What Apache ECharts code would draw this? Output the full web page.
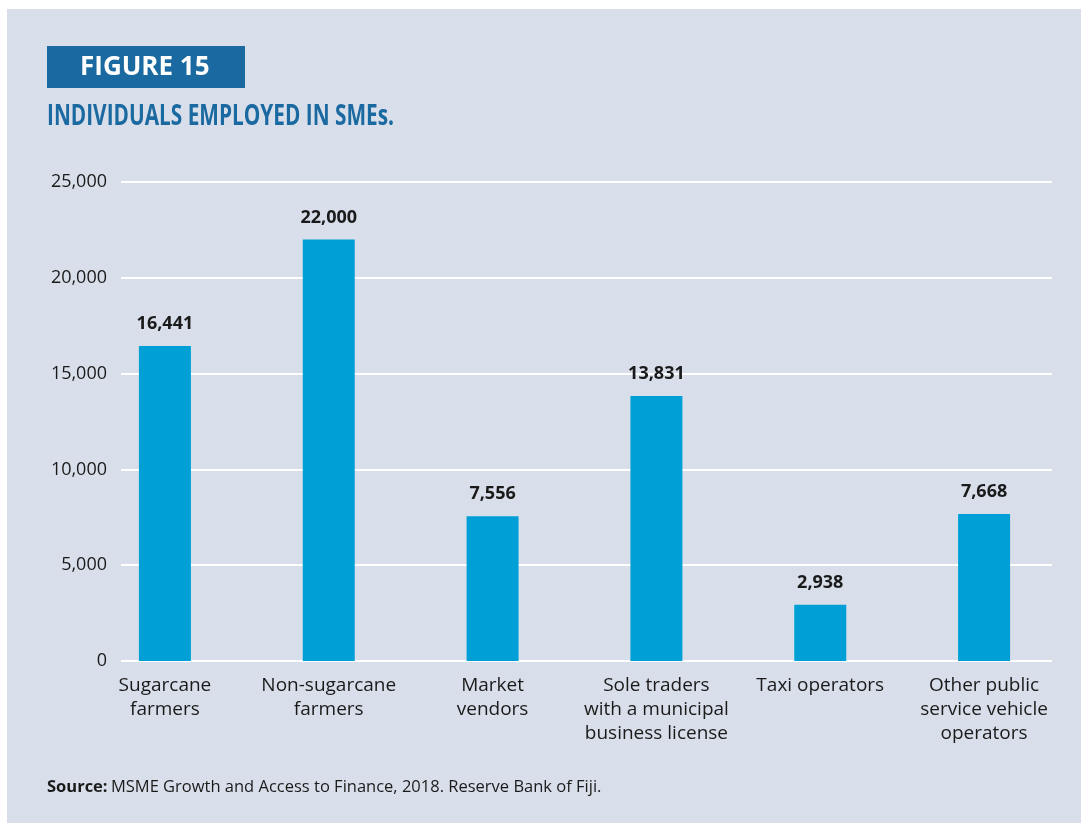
<!DOCTYPE html>
<html>
<head>
<meta charset="utf-8">
<script src="https://cdn.jsdelivr.net/npm/echarts@6/dist/echarts.min.js"></script>
<style>
  html, body { margin: 0; padding: 0; background: #ffffff; }
  #chart { width: 1081px; height: 823px; }
</style>
</head>
<body>
<div id="chart"></div>
<script>
// Employment in SMEs by group
const categories = [
  'Sugarcane\nfarmers',
  'Non-sugarcane\nfarmers',
  'Market\nvendors',
  'Sole traders\nwith a municipal\nbusiness license',
  'Taxi operators',
  'Other public\nservice vehicle\noperators'
];
const employed = [16441, 22000, 7556, 13831, 2938, 7668];
const yTicks = { min: 0, max: 25000, interval: 5000 };

const FONT = '"Open Sans", "Noto Sans", sans-serif';
const BLUE_DARK = '#1a69a0';
const BAR = '#00a0d6';
const TEXT = '#1a1a1a';

const SUBTITLE = 'INDIVIDUALS EMPLOYED IN SMEs.';
const SUBTITLE_FONT = 'bold 28px ' + FONT;
// condensed heading: squeeze the bold face horizontally to a fixed width
const measure = document.createElement('canvas').getContext('2d');
measure.font = SUBTITLE_FONT;
const subtitleScale = 347 / measure.measureText(SUBTITLE).width;

const chart = echarts.init(document.getElementById('chart'), null, { renderer: 'canvas' });

const fmt = v => v.toLocaleString('en-US');

chart.setOption({
  backgroundColor: '#ffffff',
  animation: false,
  graphic: [
    { type: 'rect', left: 7, top: 9, z: -10, shape: { width: 1074, height: 814 }, style: { fill: '#d9dfea' } },
    { type: 'rect', left: 47, top: 46, z: -5, shape: { width: 198, height: 42 }, style: { fill: BLUE_DARK } },
    { type: 'text', x: 80, y: 68, style: { text: 'FIGURE 15', fill: '#ffffff', font: 'bold 26px ' + FONT,
        textVerticalAlign: 'middle' } },
    { type: 'text', x: 47, y: 117, scaleX: subtitleScale, style: { text: SUBTITLE, fill: BLUE_DARK,
        font: SUBTITLE_FONT, textVerticalAlign: 'middle' } },
    { type: 'text', x: 47, y: 787, style: {
        textVerticalAlign: 'middle',
        rich: {
          b: { font: 'bold 16.5px ' + FONT, fill: TEXT },
          n: { font: '16.5px ' + FONT, fill: TEXT }
        },
        text: '{b|Source:} {n|MSME Growth and Access to Finance, 2018. Reserve Bank of Fiji.}'
      } }
  ],
  grid: [
    // value axis and its gridlines
    { left: 121, right: 29, top: 182, bottom: 162 },
    // bars and category labels
    { left: 83, right: 15, top: 182, bottom: 162 }
  ],
  xAxis: [
    { gridIndex: 0, type: 'value', show: false, min: 0, max: 1 },
    {
      gridIndex: 1, type: 'category', data: categories,
      axisLine: { show: false }, axisTick: { show: false },
      axisLabel: { color: TEXT, fontFamily: FONT, fontSize: 19, lineHeight: 24, margin: 13, interval: 0 }
    }
  ],
  yAxis: [
    {
      gridIndex: 0, type: 'value', min: yTicks.min, max: yTicks.max, interval: yTicks.interval,
      axisLine: { show: false }, axisTick: { show: false },
      splitLine: { show: true, lineStyle: { color: '#ffffff', width: 2 } },
      axisLabel: { color: TEXT, fontFamily: FONT, fontSize: 18, margin: 14, formatter: fmt }
    },
    {
      gridIndex: 1, type: 'value', min: yTicks.min, max: yTicks.max, interval: yTicks.interval,
      show: false, splitLine: { show: false }
    }
  ],
  series: [{
    type: 'bar',
    xAxisIndex: 1, yAxisIndex: 1,
    data: employed,
    barWidth: 52,
    itemStyle: { color: BAR },
    label: {
      show: true, position: 'top', distance: 13,
      color: TEXT, fontFamily: FONT, fontWeight: 'bold', fontSize: 18,
      formatter: p => fmt(p.value)
    }
  }]
});
</script>
</body>
</html>
